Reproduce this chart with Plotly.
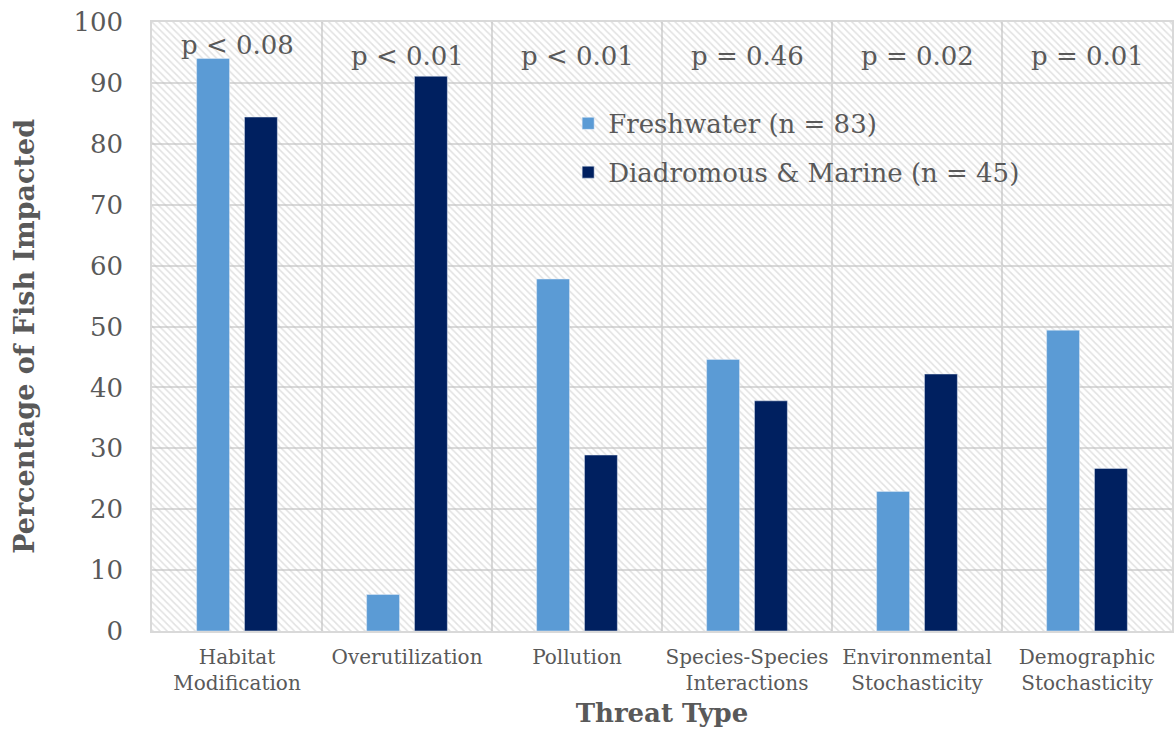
import plotly.graph_objects as go

categories = ["Habitat<br>Modification", "Overutilization", "Pollution",
              "Species-Species<br>Interactions", "Environmental<br>Stochasticity",
              "Demographic<br>Stochasticity"]
freshwater = [94.0, 6.0, 57.8, 44.6, 22.9, 49.4]
diadromous_marine = [84.4, 91.1, 28.9, 37.8, 42.2, 26.7]
p_labels = ["p < 0.08", "p < 0.01", "p < 0.01", "p = 0.46", "p = 0.02", "p = 0.01"]
p_label_y = [96.2, 94.4, 94.4, 94.4, 94.4, 94.4]
series_names = ["Freshwater (n = 83)", "Diadromous & Marine (n = 45)"]
y_title = "Percentage of Fish Impacted"
x_title = "Threat Type"

FONT = "DejaVu Serif"
GREY = "#595959"
GRID = "#d9d9d9"
pos = list(range(len(categories)))

fig = go.Figure()

# hatched plot background (base subplot, drawn below data)
fig.add_trace(go.Bar(
    x=[0.5], y=[100], width=[1], xaxis="x", yaxis="y",
    marker=dict(color="rgba(0,0,0,0)", line=dict(width=0),
                pattern=dict(shape="\\", fgcolor="#c4c4c4", bgcolor="rgba(0,0,0,0)",
                             size=5, solidity=0.3)),
    showlegend=False, hoverinfo="skip"))

fig.add_trace(go.Bar(x=pos, y=freshwater, name=series_names[0], xaxis="x2", yaxis="y",
                     marker=dict(color="#5b9bd5"), legendgroup="a"))
fig.add_trace(go.Bar(x=pos, y=diadromous_marine, name=series_names[1], xaxis="x2", yaxis="y",
                     marker=dict(color="#002060"), legendgroup="b"))

for xi, lab, yy in zip(pos, p_labels, p_label_y):
    fig.add_annotation(x=xi, y=yy, xref="x2", yref="y", text=lab, showarrow=False,
                       font=dict(family=FONT, size=26, color=GREY))

# y-axis title (slightly below centre, as in the reference)
fig.add_annotation(x=-0.1245, y=0.483, xref="paper", yref="paper", text=f"<b>{y_title}</b>",
                   textangle=-90, showarrow=False, xanchor="center", yanchor="middle",
                   font=dict(family=FONT, size=27, color=GREY))

fig.update_layout(
    width=1174, height=732,
    margin=dict(l=152, r=2, t=22, b=101, autoexpand=False),
    paper_bgcolor="white", plot_bgcolor="white",
    barmode="group", bargap=0.437, bargroupgap=0.3125,
    font=dict(family=FONT, color=GREY),
    xaxis=dict(range=[0, 1], visible=False, fixedrange=True, automargin=False),
    xaxis2=dict(overlaying="x", side="bottom", range=[-0.5, 5.5], automargin=False,
                tickvals=pos, ticktext=categories, showgrid=False,
                tickfont=dict(family=FONT, size=20, color=GREY),
                ticks="", ticklabelstandoff=7,
                minor=dict(tickvals=[i - 0.5 for i in range(len(categories) + 1)],
                           showgrid=True, gridcolor=GRID, gridwidth=1.5, ticks=""),
                showline=True, linecolor=GRID, linewidth=2, mirror=True,
                title=dict(text=f"<b>{x_title}</b>", font=dict(family=FONT, size=26, color=GREY),
                           standoff=10)),
    yaxis=dict(range=[0, 100], dtick=10, showgrid=True, gridcolor=GRID, gridwidth=1.5,
               automargin=False,
               zeroline=False, showline=True, linecolor=GRID, linewidth=1.5, mirror=True,
               tickfont=dict(family=FONT, size=26, color=GREY), ticklabelstandoff=22),
    legend=dict(x=0.408, y=0.872, xanchor="left", yanchor="top",
                bgcolor="rgba(0,0,0,0)", font=dict(family=FONT, size=26, color=GREY),
                traceorder="grouped", tracegroupgap=12),
)

fig.write_html("out.html", config={"displayModeBar": False},
               post_script="document.body.style.margin='0';document.body.style.overflow='hidden';")
